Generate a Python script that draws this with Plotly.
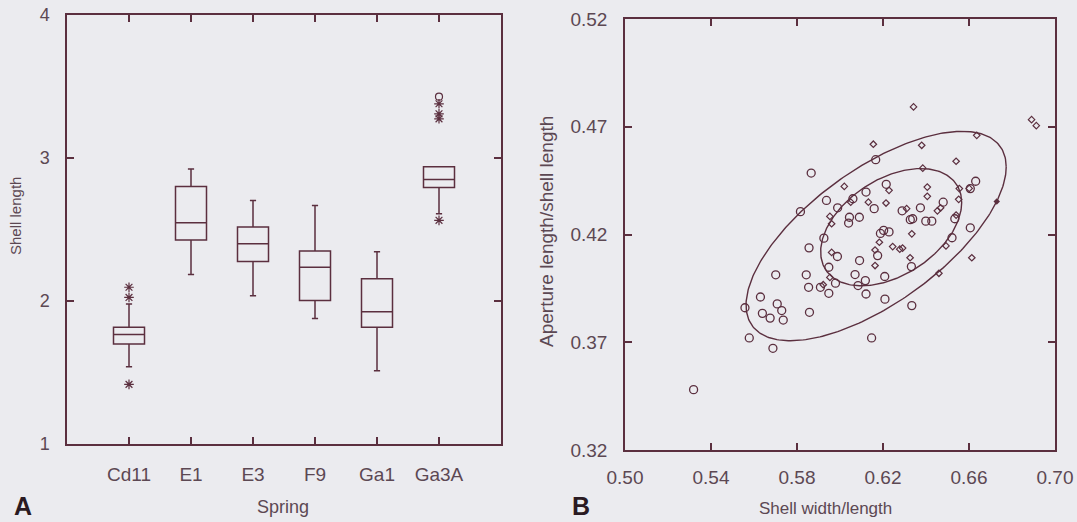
import numpy as np
import plotly.graph_objects as go

# ---------------- Panel A data (box plots of shell length by spring) -------------
springs = ["Cd11", "E1", "E3", "F9", "Ga1", "Ga3A"]
box_q1 = [1.700, 2.426, 2.276, 2.004, 1.817, 2.794]
box_median = [1.765, 2.548, 2.400, 2.236, 1.925, 2.850]
box_q3 = [1.817, 2.801, 2.517, 2.349, 2.155, 2.939]
box_lowerfence = [1.540, 2.185, 2.037, 1.878, 1.512, 2.611]
box_upperfence = [1.979, 2.923, 2.703, 2.667, 2.344, 2.939]
star_spring = ["Cd11", "Cd11", "Cd11", "Ga3A", "Ga3A", "Ga3A", "Ga3A"]
star_value = [2.096, 2.025, 1.417, 2.564, 3.379, 3.309, 3.274]
far_spring = ["Ga3A"]
far_value = [3.429]
y_ticks_a = [1, 2, 3, 4]

# ---------------- Panel B data (aperture vs width ratios) ------------------------
circle_x = [0.5319, 0.5558, 0.5578, 0.5630, 0.5639, 0.5675, 0.5688, 0.5701, 0.5708,
            0.5729, 0.5736, 0.5816, 0.5843, 0.5854, 0.5856, 0.5858, 0.5866, 0.5909,
            0.5925, 0.5937, 0.5948, 0.5948, 0.5979, 0.5988, 0.5989, 0.6040, 0.6044,
            0.6060, 0.6070, 0.6084, 0.6090, 0.6091, 0.6118, 0.6121, 0.6121, 0.6147,
            0.6159, 0.6166, 0.6175, 0.6188, 0.6203, 0.6208, 0.6209, 0.6215, 0.6228,
            0.6289, 0.6327, 0.6332, 0.6334, 0.6338, 0.6374, 0.6399, 0.6427, 0.6480,
            0.6521, 0.6534, 0.6606, 0.6606, 0.6631]
circle_y = [0.3480, 0.3860, 0.3720, 0.3910, 0.3834, 0.3812, 0.3672, 0.4013, 0.3878,
            0.3847, 0.3803, 0.4306, 0.4013, 0.3955, 0.4138, 0.3839, 0.4485, 0.3955,
            0.4183, 0.4358, 0.4048, 0.3927, 0.3974, 0.4098, 0.4324, 0.4253, 0.4280,
            0.4366, 0.4014, 0.3963, 0.4280, 0.4079, 0.3986, 0.3924, 0.4397, 0.3720,
            0.4320, 0.4547, 0.4102, 0.4205, 0.4219, 0.4005, 0.3900, 0.4433, 0.4212,
            0.4310, 0.4269, 0.4051, 0.3870, 0.4273, 0.4324, 0.4262, 0.4262, 0.4350,
            0.4185, 0.4273, 0.4231, 0.4413, 0.4447]
diamond_x = [0.6342, 0.6891, 0.6913, 0.6155, 0.6380, 0.6636, 0.6540, 0.6385, 0.6020,
             0.6406, 0.6228, 0.6555, 0.6601, 0.6406, 0.6552, 0.6050, 0.6132, 0.6214,
             0.6310, 0.6453, 0.6468, 0.5953, 0.5961, 0.6540, 0.6334, 0.6183, 0.6245,
             0.6278, 0.6291, 0.6163, 0.5961, 0.6493, 0.6326, 0.6613, 0.6163, 0.5953,
             0.5922, 0.6460]
diamond_y = [0.4792, 0.4733, 0.4705, 0.4619, 0.4614, 0.4660, 0.4540, 0.4508, 0.4423,
             0.4420, 0.4405, 0.4413, 0.4414, 0.4377, 0.4363, 0.4350, 0.4350, 0.4346,
             0.4320, 0.4310, 0.4324, 0.4284, 0.4250, 0.4290, 0.4203, 0.4164, 0.4144,
             0.4132, 0.4137, 0.4128, 0.4117, 0.4147, 0.4092, 0.4092, 0.4056, 0.4001,
             0.3967, 0.4020]
filled_x = [0.6729]
filled_y = [0.4353]
# ellipse descriptors: centre, half-extent in x and y, correlation
outer_centre = [0.6168, 0.4193]
outer_half = [0.0605, 0.0486]
outer_corr = 0.66
inner_centre = [0.6238, 0.4234]
inner_half = [0.0328, 0.0272]
inner_corr = 0.42
x_ticks_b = [0.50, 0.54, 0.58, 0.62, 0.66, 0.70]
y_ticks_b = [0.32, 0.37, 0.42, 0.47, 0.52]

# ---------------- styling ----------------
INK = "#5b2f3f"
TEXT = "#5c4853"
BG = "#ebebef"
FONT = "Liberation Sans"
W, H = 1077, 522


def ellipse(centre, half, r, n=300):
    t = np.linspace(0, 2 * np.pi, n)
    ex = centre[0] + half[0] * np.cos(t)
    ey = centre[1] + half[1] * (r * np.cos(t) + np.sqrt(1 - r * r) * np.sin(t))
    return ex, ey


fig = go.Figure()

fig.add_trace(go.Box(
    x=springs, q1=box_q1, median=box_median, q3=box_q3,
    lowerfence=box_lowerfence, upperfence=box_upperfence,
    width=0.5, whiskerwidth=0.2, boxpoints=False,
    line=dict(color=INK, width=1.5), fillcolor="rgba(0,0,0,0)",
    xaxis="x", yaxis="y", showlegend=False, hoverinfo="skip"))
fig.add_trace(go.Scatter(
    x=star_spring, y=star_value, mode="markers",
    marker=dict(symbol="asterisk-open", size=8, color=INK, line=dict(color=INK, width=1.2)),
    xaxis="x", yaxis="y", showlegend=False))
fig.add_trace(go.Scatter(
    x=far_spring, y=far_value, mode="markers",
    marker=dict(symbol="circle-open", size=7, color=INK, line=dict(color=INK, width=1.2)),
    xaxis="x", yaxis="y", showlegend=False))

ox, oy = ellipse(outer_centre, outer_half, outer_corr)
ix, iy = ellipse(inner_centre, inner_half, inner_corr)
fig.add_trace(go.Scatter(x=ox, y=oy, mode="lines", line=dict(color=INK, width=1.4),
                         xaxis="x2", yaxis="y2", showlegend=False, hoverinfo="skip"))
fig.add_trace(go.Scatter(x=ix, y=iy, mode="lines", line=dict(color=INK, width=1.4),
                         xaxis="x2", yaxis="y2", showlegend=False, hoverinfo="skip"))
fig.add_trace(go.Scatter(
    x=circle_x, y=circle_y, mode="markers",
    marker=dict(symbol="circle-open", size=8, color=INK, line=dict(color=INK, width=1.3)),
    xaxis="x2", yaxis="y2", showlegend=False))
fig.add_trace(go.Scatter(
    x=diamond_x, y=diamond_y, mode="markers",
    marker=dict(symbol="diamond-open", size=5, color=INK, line=dict(color=INK, width=1.2)),
    xaxis="x2", yaxis="y2", showlegend=False))
fig.add_trace(go.Scatter(
    x=filled_x, y=filled_y, mode="markers",
    marker=dict(symbol="diamond", size=5, color=INK),
    xaxis="x2", yaxis="y2", showlegend=False))

axis_common = dict(showline=True, linecolor=INK, linewidth=1.5, mirror="ticks",
                   ticks="inside", ticklen=7, tickwidth=1.5, tickcolor=INK,
                   showgrid=False, zeroline=False, automargin=False)

fig.update_layout(
    width=W, height=H,
    margin=dict(l=0, r=0, t=0, b=0, autoexpand=False),
    paper_bgcolor=BG, plot_bgcolor=BG,
    font=dict(family=FONT, color=TEXT),
    xaxis=dict(axis_common, domain=[67 / W, 501 / W], type="category",
               range=[-1, 6], tickfont=dict(size=19), ticklabelstandoff=12,
               anchor="y"),
    yaxis=dict(axis_common, domain=[1 - 444 / H, 1 - 15 / H], range=[1, 4],
               tickvals=y_ticks_a, tickfont=dict(size=18), ticklabelstandoff=12,
               anchor="x"),
    xaxis2=dict(axis_common, domain=[625 / W, 1055 / W], range=[0.50, 0.70],
                tickvals=x_ticks_b, tickformat=".2f", tickfont=dict(size=19),
                ticklabelstandoff=9, anchor="y2"),
    yaxis2=dict(axis_common, domain=[1 - 450 / H, 1 - 19 / H], range=[0.32, 0.52],
                tickvals=y_ticks_b, tickformat=".2f", tickfont=dict(size=19),
                ticklabelstandoff=12, anchor="x2"),
)


def note(text, px, py, size, angle=0, bold=False, color=TEXT):
    fig.add_annotation(text=f"<b>{text}</b>" if bold else text,
                       x=px / W, y=1 - py / H, xref="paper", yref="paper",
                       showarrow=False, textangle=angle,
                       font=dict(size=size, color=color, family=FONT),
                       xanchor="center", yanchor="middle")


note("Spring", 283, 507, 18)
note("Shell length", 16, 216, 15, angle=-90)
note("Shell width/length", 825, 508, 17)
note("Aperture length/shell length", 546, 232, 19, angle=-90)
note("A", 23, 506, 25, bold=True, color="#2a1a22")
note("B", 581, 506, 25, bold=True, color="#2a1a22")

fig.write_html(
    "out.html",
    config={"displayModeBar": False},
    post_script=("document.body.style.margin='0';"
                 "document.body.style.overflow='hidden';"
                 "document.body.style.background='" + BG + "';"),
)
